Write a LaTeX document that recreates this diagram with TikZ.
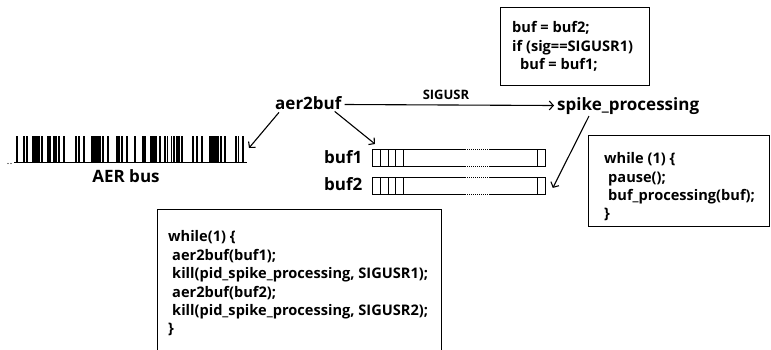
\documentclass[tikz,border=0pt]{standalone}
\usepackage{fontspec}
\setmainfont{Open Sans}
\usetikzlibrary{arrows.meta}
\begin{document}
\begin{tikzpicture}[x=1pt,y=-1pt,
  lbl/.style={font=\fontsize{17}{20}\selectfont\bfseries, inner sep=0pt, anchor=base west},
  siglbl/.style={font=\fontsize{13}{15}\selectfont\bfseries, inner sep=0pt, anchor=base},
  codetxt/.style={font=\fontsize{14.6}{18.4}\selectfont\bfseries, inner sep=0pt, align=left, anchor=north west},
  codebox/.style={draw, line width=1.4pt, anchor=north west, inner sep=0pt},
  arr/.style={line width=1.1pt, -{Straight Barb[length=4pt,width=9pt,line width=1.1pt]}},
  bufbox/.style={draw, line width=0.8pt, anchor=north west, inner sep=0pt, minimum width=173pt, minimum height=17pt},
  cell/.style={line width=0.8pt},
  brk/.style={white, line width=1.2pt, dash pattern=on 1pt off 1pt},
  spike/.style={line width=1.2pt}
]
\useasboundingbox (0,0) rectangle (771,349);

% AER bus
\coordinate (busL) at (14,162.5);
\coordinate (busR) at (247,162.5);
\draw[line width=1.6pt] (busL) -- (busR);
\foreach \x in {17,24,27,33,35,37,39,42,48,50,54,56,59,64,76,79,84,92,94,96,98,100,103,108,117,119,122,127,135,143,145,151,152.5,154,156,160,165,167.5,171.5,174,177,179,182,193,197,202,210,212,214,216,218,221,225,236,238.5,243}
  \draw[spike] (\x,136) -- (\x,162);
\fill (8,163.5) circle (0.7);
\fill (11,163.5) circle (0.7);
\node[lbl, anchor=base] (aerlbl) at (126,182) {AER bus};

% labels
\node[lbl] (ab) at (275,109) {aer2buf};
\node[lbl] (sp) at (557,110) {spike\_processing};
\node[siglbl] (sig) at (446,99) {SIGUSR};
\node[lbl] (b1lbl) at (324,163) {buf1};
\node[lbl] (b2lbl) at (324,190) {buf2};

% buffers
\node[bufbox] (buf1box) at (372,149) {};
\node[bufbox] (buf2box) at (372,177) {};
\foreach \b in {buf1box,buf2box}{
  \foreach \c in {8,16,23.5,31,165}
    \draw[cell] ([xshift=\c pt]\b.north west) -- ([xshift=\c pt]\b.south west);
  \draw[brk] ([xshift=94pt]\b.north west) -- ([xshift=118pt]\b.north west);
  \draw[brk] ([xshift=94pt]\b.south west) -- ([xshift=118pt]\b.south west);
}

% code boxes
\node[codebox, minimum width=149pt, minimum height=78pt] (topbox) at (500,7) {};
\node[codetxt] (topcode) at (512,21.5) {buf = buf2;\\ if (sig==SIGUSR1)\\ \hspace*{8pt}buf = buf1;};

\node[codebox, minimum width=181pt, minimum height=91pt] (rightbox) at (588,135) {};
\node[codetxt] (rightcode) at (604,152.5) {while (1) \{\\ \hspace*{4pt}pause();\\ \hspace*{4pt}buf\_processing(buf);\\ \}};

\node[codebox, minimum width=284pt, minimum height=170pt] (mainbox) at (157,209) {};
\node[codetxt] (maincode) at (168,230.5) {while(1) \{\\ \hspace*{4pt}aer2buf(buf1);\\ \hspace*{4pt}kill(pid\_spike\_processing, SIGUSR1);\\ \hspace*{4pt}aer2buf(buf2);\\ \hspace*{4pt}kill(pid\_spike\_processing, SIGUSR2);\\ \}};

% connectors
\coordinate (busarrow) at (249,148);
\draw[arr] ([xshift=4pt,yshift=-3pt]ab.south west) -- (busarrow);
\draw[arr] ([xshift=-7pt,yshift=-2pt]ab.south east) -- ([xshift=3pt,yshift=5pt]buf1box.north west);
\draw[arr] ([xshift=3pt,yshift=4.5pt]ab.base east) -- ([xshift=-3pt,yshift=4.5pt]sp.base west);
\draw[arr] ([xshift=32pt,yshift=-6pt]sp.base west) -- ([xshift=7pt,yshift=-2pt]buf2box.east);
\end{tikzpicture}
\end{document}
